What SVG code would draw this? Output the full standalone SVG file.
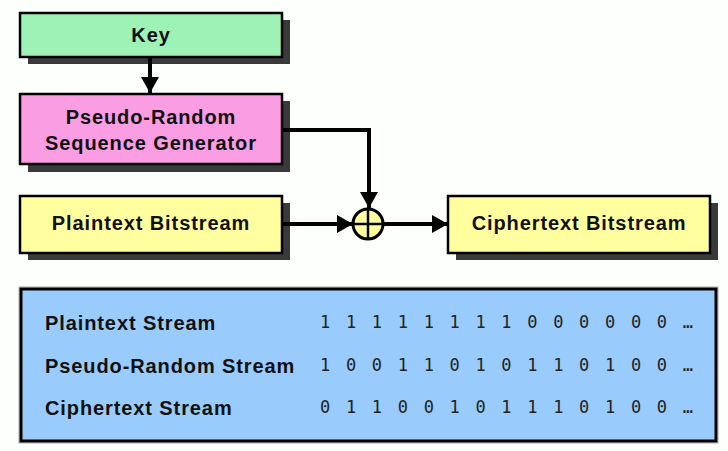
<svg xmlns="http://www.w3.org/2000/svg" width="728" height="451" viewBox="0 0 728 451">
<defs>
<style>
.box{stroke:#000;stroke-width:2.5}
.shadow{fill:#3a3a3a}
.lbl{font-family:"Liberation Sans",Arial,sans-serif;font-weight:bold;font-size:20px;letter-spacing:0.9px;fill:#111;text-anchor:middle}
.row{font-family:"Liberation Sans",Arial,sans-serif;font-weight:bold;font-size:20px;letter-spacing:0.9px;fill:#111}
.bits{font-family:"DejaVu Sans Mono",monospace;font-size:17px;letter-spacing:2.72px;fill:#222}
.wire{fill:none;stroke:#000;stroke-width:4}
</style>
<marker id="ah" viewBox="0 0 16 18" refX="16" refY="9" markerWidth="16" markerHeight="18" markerUnits="userSpaceOnUse" orient="auto">
<path d="M0,0 L16,9 L0,18 Z" fill="#000"/>
</marker>
</defs>
<rect width="728" height="451" fill="#fdfffd"/>
<g id="key">
<rect class="shadow" x="28" y="20" width="262" height="44"/>
<rect class="box" x="20" y="13" width="262" height="44" fill="#9ef2b6"/>
<text class="lbl" x="151" y="42">Key</text>
</g>
<g id="prsg">
<rect class="shadow" x="28" y="101" width="262" height="71"/>
<rect class="box" x="20" y="94" width="262" height="70" fill="#fa9de3"/>
<text class="lbl" x="151" y="124">Pseudo-Random</text>
<text class="lbl" x="151" y="150">Sequence Generator</text>
</g>
<g id="plaintext">
<rect class="shadow" x="28" y="203" width="262" height="57"/>
<rect class="box" x="20" y="196" width="262" height="57" fill="#ffffa0"/>
<text class="lbl" x="151" y="230">Plaintext Bitstream</text>
</g>
<g id="ciphertext">
<rect class="shadow" x="456" y="203" width="262" height="57"/>
<rect class="box" x="448" y="196" width="262" height="57" fill="#ffffa0"/>
<text class="lbl" x="579" y="230">Ciphertext Bitstream</text>
</g>
<g id="connectors">
<line class="wire" x1="150" y1="57" x2="150" y2="93" marker-end="url(#ah)"/>
<polyline class="wire" points="282,130 369,130 369,208" marker-end="url(#ah)"/>
<line class="wire" x1="282" y1="224" x2="353" y2="224" marker-end="url(#ah)"/>
<line class="wire" x1="383" y1="224" x2="448" y2="224" marker-end="url(#ah)"/>
</g>
<g id="xor">
<circle cx="368" cy="224" r="15" fill="#ffffa0" stroke="#000" stroke-width="3"/>
<line x1="353" y1="224" x2="383" y2="224" stroke="#000" stroke-width="2.5"/>
<line x1="368" y1="209" x2="368" y2="239" stroke="#000" stroke-width="2.5"/>
</g>
<g id="table">
<rect x="19" y="287" width="699" height="156" fill="none" stroke="#aaa" stroke-width="1"/>
<rect x="21" y="289" width="695" height="152" fill="#99ccfc" stroke="#000" stroke-width="3"/>
<text class="row" x="45" y="330">Plaintext Stream</text>
<text class="row" x="45" y="373">Pseudo-Random Stream</text>
<text class="row" x="45" y="415">Ciphertext Stream</text>
<text class="bits" x="320" y="328">1 1 1 1 1 1 1 1 0 0 0 0 0 0 …</text>
<text class="bits" x="320" y="371">1 0 0 1 1 0 1 0 1 1 0 1 0 0 …</text>
<text class="bits" x="320" y="413">0 1 1 0 0 1 0 1 1 1 0 1 0 0 …</text>
</g>
</svg>
